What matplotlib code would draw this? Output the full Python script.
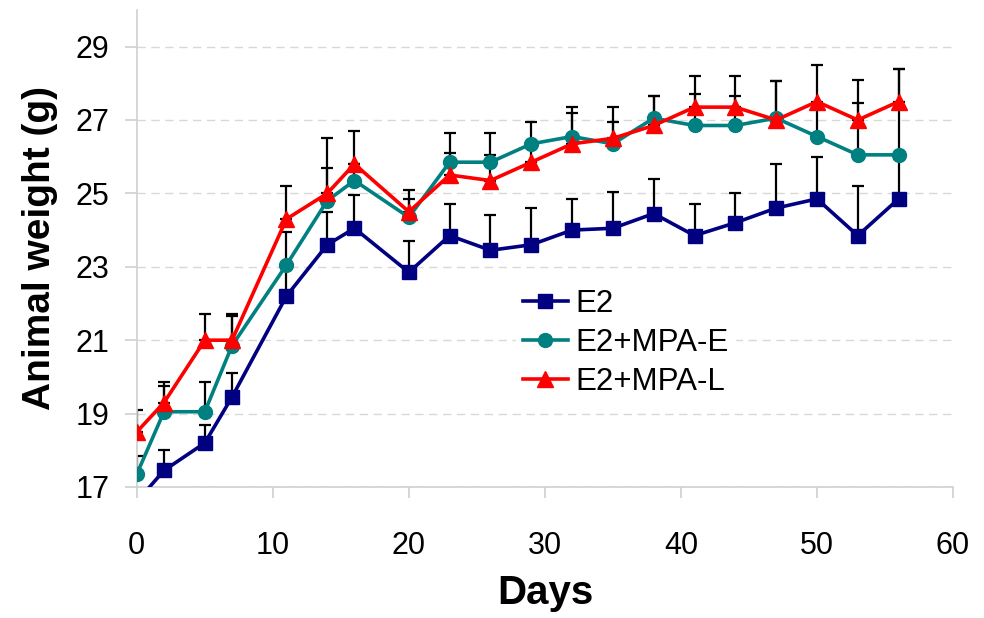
import matplotlib
matplotlib.use("Agg")
import matplotlib.pyplot as plt
import numpy as np

plt.rcParams['font.family'] = ['Liberation Sans', 'DejaVu Sans']

days = [0, 2, 5, 7, 11, 14, 16, 20, 23, 26, 29, 32, 35, 38, 41, 44, 47, 50, 53, 56]

e2 = [16.6, 17.45, 18.2, 19.45, 22.2, 23.6, 24.05, 22.85, 23.85, 23.45, 23.6, 24.0,
      24.05, 24.45, 23.85, 24.2, 24.6, 24.85, 23.85, 24.85]
e2_err = [0.3, 0.55, 0.5, 0.65, 0.9, 0.9, 0.9, 0.85, 0.85, 0.95, 1.0, 0.85,
          1.0, 0.95, 0.85, 0.8, 1.2, 1.15, 1.35, 1.1]

mpa_e = [17.35, 19.05, 19.05, 20.85, 23.05, 24.8, 25.35, 24.35, 25.85, 25.85, 26.35, 26.55,
         26.35, 27.05, 26.85, 26.85, 27.05, 26.55, 26.05, 26.05]
mpa_e_err = [0.5, 0.7, 0.8, 0.8, 0.9, 0.9, 0.45, 0.5, 0.8, 0.8, 0.6, 0.8,
             0.6, 0.6, 0.85, 0.8, 1.0, 0.9, 1.4, 2.35]

mpa_l = [18.5, 19.3, 21.0, 21.0, 24.3, 25.0, 25.8, 24.5, 25.5, 25.35, 25.85, 26.35,
         26.5, 26.85, 27.35, 27.35, 27.0, 27.5, 27.0, 27.5]
mpa_l_err = [0.6, 0.55, 0.7, 0.7, 0.9, 1.5, 0.9, 0.6, 0.6, 0.7, 0.5, 0.85,
             0.85, 0.8, 0.85, 0.85, 1.05, 1.0, 1.1, 0.9]

labels = ['E2', 'E2+MPA-E', 'E2+MPA-L']
colors = ['#000080', '#008080', '#ff0000']
markers = ['s', 'o', '^']
msizes = [9.5, 10, 11]

fig = plt.figure(figsize=(9.84, 6.18), dpi=100)
ax = fig.add_axes([0.139, 0.212, 0.8295, 0.772])

series = [(e2, e2_err), (mpa_e, mpa_e_err), (mpa_l, mpa_l_err)]
for i, (vals, errs) in enumerate(series):
    ax.errorbar(days, vals, yerr=[np.zeros(len(errs)), errs], fmt='none',
                ecolor='black', elinewidth=1.6, capsize=4.5, capthick=1.6, zorder=2)
for i, (vals, errs) in enumerate(series):
    ax.plot(days, vals, color=colors[i], marker=markers[i], markersize=msizes[i],
            linewidth=2.6, label=labels[i], zorder=3 + i)

ax.set_xlim(0, 60)
ax.set_ylim(17, 30)
ax.set_xticks(range(0, 61, 10))
ax.set_yticks(range(17, 30, 2))
ax.yaxis.grid(True, color='#d8d8d8', linestyle=(0, (6, 4)), linewidth=1.0)
ax.set_axisbelow(True)

for s in ['top', 'right']:
    ax.spines[s].set_visible(False)
for s in ['left', 'bottom']:
    ax.spines[s].set_color('#d0d0d0')
    ax.spines[s].set_linewidth(1.2)

ax.tick_params(axis='x', length=8, width=1.2, color='#d0d0d0', pad=24, labelsize=22)
ax.tick_params(axis='y', length=8.5, width=1.2, color='#d0d0d0', pad=11, labelsize=22)

ax.set_xlabel('Days', fontsize=29, fontweight='bold', labelpad=9)
ax.set_ylabel('Animal weight (g)', fontsize=28, fontweight='bold', labelpad=13)

leg = ax.legend(loc='center left', bbox_to_anchor=(0.446, 0.302), fontsize=22.5,
                frameon=True, framealpha=1.0, edgecolor='white', facecolor='white',
                handlelength=1.45, handletextpad=0.25, labelspacing=0.3,
                borderpad=0.2, fancybox=False)

fig.savefig('out.png', dpi=100)
